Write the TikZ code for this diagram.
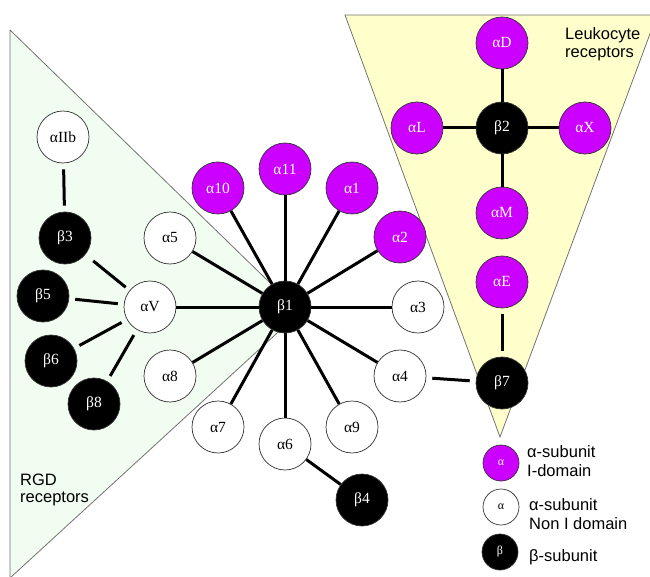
\documentclass[tikz,border=0pt]{standalone}
\usepackage{fontspec}
\setmainfont{Liberation Serif}
\newfontfamily\sansf{Liberation Sans}
\definecolor{imag}{RGB}{204,0,255}
\definecolor{rgdgreen}{RGB}{240,253,240}
\definecolor{leuyellow}{RGB}{255,255,204}
\tikzset{
  sub/.style={circle,minimum size=52pt,inner sep=0pt,draw=black!80,line width=0.7pt,font=\fontsize{15.5}{17}\selectfont},
  inode/.style={sub,fill=imag,text=white},
  nnode/.style={sub,fill=white,text=black},
  bnode/.style={sub,fill=black,text=white},
  lgd/.style={minimum size=36pt,font=\fontsize{12}{14}\selectfont},
  edge/.style={line width=3pt,black},
  gap/.style={shorten <=6pt,shorten >=6pt},
  tri/.style={draw=black!55,line width=0.8pt},
  lbl/.style={font=\sansf\fontsize{16.5}{19}\selectfont,anchor=base west,inner sep=0pt}
}
\begin{document}
\begin{tikzpicture}[x=1pt,y=-1pt]
\useasboundingbox (0,0) rectangle (650,577);
\clip (0,0) rectangle (650,577);
% background triangles
\fill[rgdgreen] (10,30) -- (300,312) -- (10,578) -- cycle;
\draw[tri] (10,30) -- (300,312) -- (10,578) -- (10,30);
\fill[leuyellow] (345,15) -- (657,15) -- (500,437) -- cycle;
\draw[tri] (345,15) -- (657,15) -- (500,437) -- cycle;
% texts
\node[lbl] (t1) at (565,40) {Leukocyte};
\node[lbl] (t2) at (565,58) {receptors};
\node[lbl] (t3) at (20,485) {RGD};
\node[lbl] (t4) at (20,502) {receptors};
% central beta1 group
\node[bnode] (b1) at (285,307) {β1};
\node[nnode] (a5) at (170,238) {α5};
\node[inode] (a10) at (218,188) {α10};
\node[inode] (a11) at (285,169) {α11};
\node[inode] (a1) at (352,188) {α1};
\node[inode] (a2) at (400,237) {α2};
\node[nnode] (a3) at (418,307) {α3};
\node[nnode] (a4) at (400,376) {α4};
\node[nnode] (a9) at (352,427) {α9};
\node[nnode] (a6) at (285,444) {α6};
\node[nnode] (a7) at (218,427) {α7};
\node[nnode] (a8) at (170,376) {α8};
\node[nnode] (aV) at (150,307) {αV};
% RGD betas
\node[nnode] (aIIb) at (63,137) {αIIb};
\node[bnode] (b3) at (65,238) {β3};
\node[bnode] (b5) at (43,296) {β5};
\node[bnode] (b6) at (51,361) {β6};
\node[bnode] (b8) at (94,404) {β8};
\node[bnode] (b4) at (362,500) {β4};
% leukocyte group
\node[bnode] (b2) at (502,128) {β2};
\node[inode] (aD) at (502,43) {αD};
\node[inode] (aL) at (417,128) {αL};
\node[inode] (aX) at (585,128) {αX};
\node[inode] (aM) at (502,213) {αM};
\node[inode] (aE) at (502,282) {αE};
\node[bnode] (b7) at (502,383) {β7};
% edges
\foreach \n in {a5,a10,a11,a1,a2,a3,a4,a9,a6,a7,a8,aV}{\draw[edge] (b1) -- (\n);}
\foreach \n in {aD,aL,aX,aM}{\draw[edge] (b2) -- (\n);}
\draw[edge] (a6) -- (b4);
\draw[edge,gap] (aIIb) -- (b3);
\draw[edge,shorten <=10pt,shorten >=5pt] (b3) -- (aV);
\draw[edge,gap] (b5) -- (aV);
\draw[edge,gap] (b6) -- (aV);
\draw[edge,gap] (b8) -- (aV);
\draw[edge,gap] (aE) -- (b7);
\draw[edge,gap] (a4) -- (b7);
% legend
\node[inode,lgd] (l1) at (501,463) {α};
\node[nnode,lgd] (l2) at (501,507) {α};
\node[bnode,lgd] (l3) at (500,552) {β};
\node[lbl] (m1) at (527,457) {α-subunit};
\node[lbl] (m2) at (527,476) {I-domain};
\node[lbl] (m3) at (529,510) {α-subunit};
\node[lbl] (m4) at (529,529) {Non I domain};
\node[lbl] (m5) at (529,561) {β-subunit};
\end{tikzpicture}
\end{document}
